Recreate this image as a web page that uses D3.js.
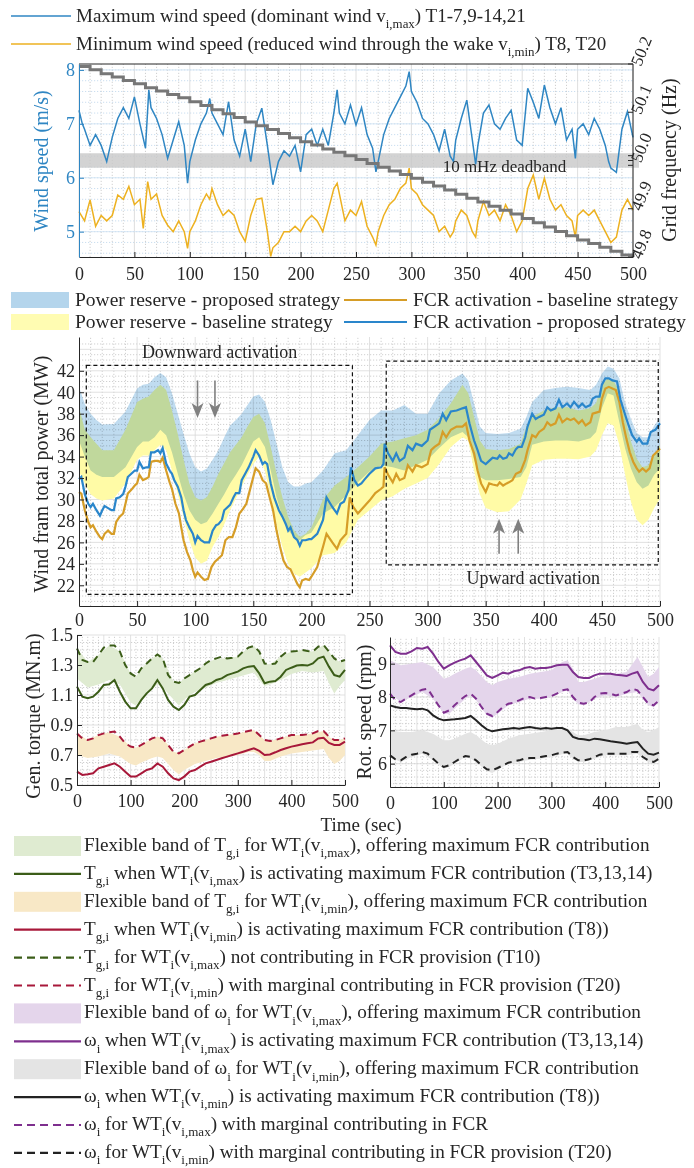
<!DOCTYPE html>
<html>
<head>
<meta charset="utf-8">
<script src="https://cdn.jsdelivr.net/npm/d3@7"></script>
<style>
  body { margin: 0; background: #fff; }
  svg { font-family: "Liberation Serif", "Times New Roman", serif; }
</style>
</head>
<body>
<div id="chart"></div>
<script>
// ---------------- data ----------------
const timeTicks = [0, 50, 100, 150, 200, 250, 300, 350, 400, 450, 500];
const timeTicksWide = [0, 100, 200, 300, 400, 500];

// wind speeds [t, m/s]
const windMax = [[0,7.25],[3,7.0],[5,6.9],[10,6.6],[15,6.8],[20,6.6],[25,6.3],[30,6.75],[35,7.1],[40,7.3],[45,7.1],[50,7.5],[55,7.0],[60,6.55],[63,7.63],[65,7.3],[70,7.1],[75,6.8],[80,6.36],[85,6.7],[90,7.04],[95,6.6],[98,5.9],[100,6.3],[105,6.7],[110,7.0],[115,7.2],[118,7.47],[120,7.2],[125,7.0],[130,6.8],[135,7.41],[140,6.7],[145,6.4],[150,6.9],[155,6.3],[160,7.0],[165,7.29],[170,6.6],[175,5.87],[180,6.3],[185,6.5],[190,6.4],[195,6.6],[200,6.11],[205,6.8],[210,6.9],[215,6.6],[220,6.9],[225,6.6],[230,7.2],[233,7.63],[235,7.2],[240,7.0],[245,7.35],[250,6.98],[255,7.3],[260,6.8],[265,6.55],[268,6.11],[270,6.3],[275,6.8],[280,7.1],[285,7.3],[290,7.5],[295,7.7],[298,7.97],[300,7.6],[305,7.4],[310,7.1],[315,7.0],[320,6.8],[325,6.5],[330,6.9],[335,6.4],[338,6.3],[340,6.7],[345,7.1],[350,7.44],[355,6.7],[358,6.25],[360,6.6],[365,7.2],[370,7.35],[375,7.0],[380,6.9],[385,7.1],[390,7.25],[395,6.7],[400,6.6],[405,7.66],[410,7.4],[415,7.1],[420,7.72],[425,7.3],[430,7.0],[435,7.3],[440,6.7],[445,6.9],[448,6.36],[450,6.9],[455,7.0],[460,6.8],[465,7.1],[470,6.9],[475,6.6],[478,6.3],[480,6.18],[485,6.1],[490,6.9],[495,7.23],[500,6.75]];
const windMin = [[0,5.37],[5,5.2],[10,5.59],[15,5.1],[20,5.3],[25,5.2],[30,5.3],[35,5.68],[40,5.6],[45,5.84],[50,5.5],[55,5.6],[58,5.06],[60,5.5],[62,5.93],[65,5.6],[70,5.7],[75,5.3],[80,5.12],[85,5.0],[90,5.2],[95,5.0],[98,4.69],[100,5.0],[105,5.2],[110,5.5],[115,5.7],[118,5.6],[120,5.8],[125,5.5],[130,5.3],[135,5.4],[140,5.3],[145,5.0],[150,4.82],[155,5.3],[160,5.6],[165,5.62],[170,5.0],[173,4.54],[175,4.7],[180,4.8],[185,5.0],[190,5.0],[195,5.1],[200,5.0],[205,5.2],[210,5.3],[215,5.2],[220,5.0],[225,5.4],[230,5.8],[233,5.9],[235,5.7],[240,5.2],[245,5.4],[250,5.3],[255,5.56],[260,5.1],[265,4.9],[268,4.75],[270,5.0],[275,5.3],[280,5.5],[285,5.6],[290,5.8],[295,5.9],[298,6.18],[300,5.8],[305,5.7],[310,5.5],[315,5.4],[320,5.3],[325,5.0],[330,5.1],[335,4.9],[338,5.0],[340,5.2],[345,5.4],[350,5.3],[355,5.0],[358,4.9],[360,5.2],[365,5.56],[370,5.3],[375,5.4],[380,5.2],[385,5.5],[390,5.3],[395,5.0],[400,5.2],[405,5.8],[410,6.05],[415,5.6],[420,5.99],[425,5.6],[430,5.4],[435,5.5],[440,5.3],[445,5.2],[448,4.9],[450,5.3],[455,5.4],[460,5.3],[465,5.4],[470,5.2],[475,5.0],[480,4.8],[485,4.9],[490,5.4],[495,5.6],[500,5.4]];
const windTicks = [5, 6, 7, 8];

// grid frequency staircase (Hz), one value per 10 s step
const freqT = [0,10,20,30,40,50,60,70,80,90,100,110,120,130,140,150,160,170,180,190,200,210,220,230,240,250,260,270,280,290,300,310,320,330,340,350,360,370,380,390,400,410,420,430,440,450,460,470,480,490,500];
const freqV = [50.195,50.188,50.180,50.173,50.166,50.159,50.151,50.144,50.137,50.130,50.122,50.114,50.105,50.097,50.089,50.080,50.072,50.064,50.056,50.047,50.039,50.032,50.024,50.017,50.010,50.002,49.994,49.986,49.978,49.971,49.963,49.955,49.947,49.939,49.930,49.922,49.914,49.905,49.897,49.889,49.880,49.871,49.862,49.853,49.844,49.835,49.828,49.820,49.812,49.804,49.800];
const freqTicks = [49.8, 49.9, 50.0, 50.1, 50.2];
const deadband = [49.985, 50.015];

// wind farm power (MW)
const bandT      = [0,5,10,15,20,30,40,50,55,60,65,70,75,80,85,90,95,100,105,110,115,120,125,130,135,140,145,150,155,160,165,170,175,180,185,190,195,200,210,220,230,240,250,260,270,280,290,300,310,320,330,335,340,345,350,360,370,380,385,390,400,410,420,430,440,445,450,455,460,465,470,475,480,485,490,495,500];
const reserveProposedHi = [40.5,38.9,38.0,37.4,37.0,37.05,38.2,40.35,40.7,40.8,41.4,41.8,41.4,39.9,38.0,36.1,34.3,33.0,32.6,32.9,33.7,34.6,35.8,36.9,37.4,38.0,38.8,39.6,39.8,39.1,37.4,35.2,33.0,31.6,31.2,31.2,31.5,31.6,32.7,34.3,34.6,36.0,37.4,38.3,38.3,38.8,38.0,38.0,39.9,41.1,41.75,41.1,38.95,36.8,36.2,36.1,36.2,36.6,37.7,39.1,40.2,40.4,40.5,40.4,40.2,40.7,41.75,42.4,42.2,41.3,39.0,37.5,36.2,35.8,35.8,36.9,37.6];
const reserveProposedLo = [35.5,34.0,32.7,32.3,32.1,32.1,33.0,34.9,35.4,35.4,35.8,36.5,36.0,34.4,32.4,30.5,29.0,28.1,27.7,27.9,28.7,29.6,30.5,31.5,32.3,33.2,34.3,35.4,35.8,34.9,32.7,30.2,28.4,27.1,26.5,26.2,26.7,26.9,28.7,29.3,30.4,31.6,32.6,33.2,33.0,32.7,33.2,33.7,34.8,35.8,36.3,35.8,33.7,32.1,31.8,31.8,31.9,32.1,33.0,35.1,35.4,35.5,35.5,35.4,35.7,36.3,38.5,39.9,39.7,37.2,34.75,32.9,31.6,31.0,31.3,32.3,32.9];
const reserveBaselineHi = [38.6,36.5,35.8,35.2,34.6,34.6,36.5,39.1,39.4,39.6,40.2,40.7,40.2,38.3,36.1,33.7,31.5,30.2,29.9,30.2,31.2,32.4,33.4,34.4,35.1,35.8,36.8,37.7,38.0,37.1,34.9,32.4,30.2,28.4,27.1,26.5,26.8,27.4,30.0,31.3,32.1,33.0,34.0,35.2,35.4,35.7,36.0,36.5,37.6,38.95,40.7,39.9,37.7,35.5,34.7,34.6,34.7,35.2,36.8,37.7,38.3,38.6,38.6,38.3,38.5,39.0,40.7,41.3,41.1,40.0,37.55,35.4,33.8,33.0,33.2,34.1,35.1];
const reserveBaselineLo = [32.6,31.5,30.5,30.1,29.9,30.1,31.5,33.7,34.1,34.1,34.6,35.1,34.6,32.7,30.5,28.4,26.2,24.6,24.0,24.3,25.6,26.5,27.7,29.0,30.1,31.2,32.3,33.3,34.0,32.7,30.2,27.7,25.6,24.0,23.1,22.8,23.2,23.6,24.8,25.0,26.0,28.1,29.0,29.9,30.3,31.0,31.5,32.0,33.3,34.9,35.8,35.5,32.7,30.5,29.2,28.8,28.9,30.0,31.5,33.2,33.7,33.8,33.8,33.75,34.0,34.6,36.0,37.1,36.9,35.1,32.3,29.8,28.1,27.6,28.1,29.2,30.1];

const fcrProposed = [[0,31.9],[2,32.1],[5,30.5],[8,29.6],[10,29.3],[12,29.6],[15,29.0],[18,28.5],[20,29.0],[22,29.4],[25,29.2],[28,29.0],[30,29.0],[32,30.1],[35,30.2],[38,30.5],[40,31.2],[42,32.1],[45,32.4],[48,32.7],[50,32.7],[52,33.5],[55,32.9],[58,33.0],[60,33.0],[62,34.4],[65,34.4],[68,34.6],[70,34.3],[72,34.8],[75,33.35],[78,32.7],[80,32.4],[82,31.8],[85,31.2],[88,30.2],[90,29.0],[92,28.1],[95,27.4],[98,26.8],[100,26.0],[102,26.6],[105,26.2],[108,26.0],[112,26.0],[115,27.1],[118,27.6],[120,27.7],[123,28.1],[125,29.0],[128,29.3],[130,29.5],[133,30.2],[135,30.6],[138,30.6],[140,31.8],[143,32.4],[146,33.0],[150,34.0],[152,34.6],[155,34.1],[158,33.3],[160,33.5],[162,33.3],[165,31.5],[168,30.2],[170,29.6],[172,29.0],[175,28.4],[178,27.7],[180,27.1],[182,27.4],[185,26.5],[188,26.2],[190,25.7],[192,26.2],[195,26.2],[198,26.3],[200,26.3],[205,26.8],[210,28.1],[213,30.2],[218,29.3],[222,28.7],[225,29.6],[228,29.8],[232,30.9],[234,33.0],[237,31.8],[240,31.3],[243,31.5],[246,31.9],[250,32.4],[255,32.9],[260,33.0],[262,33.3],[263,35.2],[266,34.3],[270,33.6],[273,34.3],[276,33.6],[280,33.9],[283,35.0],[287,34.6],[290,35.2],[295,35.0],[300,35.5],[302,36.5],[306,36.8],[310,37.1],[313,38.0],[316,37.4],[320,38.2],[325,38.3],[330,38.5],[333,38.6],[336,37.1],[340,35.5],[343,34.6],[346,33.6],[350,33.3],[353,33.6],[356,33.9],[360,33.8],[362,34.1],[365,33.8],[368,33.9],[370,34.3],[373,34.1],[376,34.7],[378,34.9],[381,34.9],[384,35.8],[386,36.8],[390,38.0],[393,37.5],[396,37.7],[400,37.9],[403,38.6],[406,38.3],[410,38.5],[413,39.3],[416,38.6],[420,38.95],[423,38.6],[426,39.1],[430,38.6],[433,38.95],[436,38.6],[440,38.8],[442,39.4],[445,39.6],[448,39.6],[450,40.7],[453,41.3],[456,41.3],[459,41.1],[463,41.0],[466,39.3],[470,37.9],[473,36.9],[476,36.0],[480,35.4],[482,35.7],[485,35.2],[489,35.2],[492,36.3],[496,36.5],[500,37.1]];
const fcrBaseline = [[0,30.7],[2,30.55],[5,29.0],[8,27.9],[10,27.4],[12,27.6],[15,27.0],[18,26.5],[20,26.3],[22,26.8],[25,27.1],[28,26.8],[30,26.8],[32,27.9],[35,28.4],[38,28.7],[40,29.6],[42,30.55],[45,30.9],[48,31.3],[50,31.5],[52,32.3],[55,31.8],[58,31.95],[60,32.1],[62,33.5],[65,33.6],[68,33.6],[70,33.5],[72,33.9],[75,32.7],[78,31.6],[80,31.0],[83,29.6],[86,28.7],[88,27.4],[90,26.2],[93,25.1],[96,24.3],[98,23.4],[100,22.8],[102,23.2],[105,22.8],[108,22.5],[111,22.6],[114,23.7],[117,24.2],[120,24.5],[123,24.8],[126,26.2],[129,26.5],[132,26.5],[135,27.4],[138,28.7],[141,29.1],[144,29.6],[147,30.85],[150,32.1],[152,32.9],[155,32.6],[158,31.8],[161,31.5],[164,30.2],[167,29.0],[170,27.1],[173,25.6],[176,24.3],[179,23.7],[182,23.5],[185,22.8],[188,22.1],[190,21.8],[192,22.45],[195,22.6],[198,22.5],[200,22.8],[205,23.7],[210,25.6],[213,26.8],[218,26.0],[222,25.4],[225,26.2],[230,26.8],[233,30.2],[236,29.3],[240,28.7],[245,29.3],[250,29.9],[255,30.6],[260,31.0],[262,31.2],[263,33.0],[266,32.3],[270,31.6],[273,32.4],[276,31.8],[280,32.0],[283,33.2],[287,32.6],[290,33.2],[295,33.0],[300,33.3],[303,34.6],[306,34.9],[310,35.2],[313,36.3],[316,35.8],[320,36.5],[325,36.8],[330,36.8],[333,37.1],[336,35.5],[340,34.3],[343,32.7],[346,31.5],[350,30.7],[353,31.5],[356,31.4],[360,31.3],[362,31.6],[365,31.3],[368,31.5],[370,31.6],[373,31.8],[376,32.4],[380,32.6],[384,33.7],[386,34.6],[390,36.0],[393,35.8],[396,36.3],[400,36.6],[403,37.2],[406,36.9],[410,37.1],[413,37.9],[416,37.2],[420,37.55],[423,37.4],[426,37.55],[430,37.1],[433,37.4],[436,36.9],[440,37.2],[442,38.0],[445,38.1],[448,38.2],[450,39.4],[453,40.35],[456,40.5],[459,40.35],[462,40.2],[465,39.1],[468,37.2],[471,35.7],[474,34.4],[477,33.5],[480,32.9],[482,32.6],[485,32.9],[488,32.6],[491,32.9],[494,34.1],[497,34.4],[500,34.75]];
const powerTicks = [22, 24, 26, 28, 30, 32, 34, 36, 38, 40, 42];

// activation boxes [t0, t1, P0, P1] and arrows [t, Pfrom, Pto]
const downBox = [6.3, 235.3, 21.15, 42.5];
const upBox = [264.4, 498.5, 23.9, 42.9];
const downArrows = [[102, 41.1, 37.6], [117, 41.1, 37.6]];
const upArrows = [[361.5, 24.95, 28.2], [378, 24.95, 28.2]];

// generator torque (MN.m) and rotor speed (rpm), 10 s steps
const t10 = d3.range(0, 501, 10);
const tgMax = [1.156,1.089,1.078,1.089,1.122,1.167,1.171,1.2,1.122,1.056,1.011,1.011,1.067,1.111,1.144,1.2,1.144,1.067,1.022,1.0,1.033,1.089,1.1,1.133,1.167,1.178,1.2,1.211,1.233,1.244,1.256,1.278,1.289,1.293,1.244,1.178,1.189,1.193,1.222,1.267,1.282,1.296,1.3,1.296,1.31,1.344,1.356,1.289,1.233,1.222,1.267];
const tgMaxNoFcr = [1.41,1.333,1.32,1.32,1.367,1.416,1.43,1.43,1.39,1.30,1.244,1.222,1.278,1.31,1.344,1.37,1.344,1.233,1.19,1.18,1.21,1.233,1.256,1.278,1.31,1.333,1.344,1.356,1.344,1.349,1.356,1.39,1.416,1.427,1.39,1.31,1.304,1.31,1.356,1.384,1.39,1.393,1.40,1.393,1.39,1.422,1.433,1.39,1.344,1.322,1.333];
const tgMin = [0.589,0.567,0.571,0.578,0.611,0.622,0.633,0.644,0.622,0.589,0.556,0.556,0.578,0.6,0.611,0.644,0.622,0.578,0.544,0.533,0.556,0.589,0.6,0.622,0.644,0.655,0.667,0.678,0.689,0.70,0.711,0.722,0.733,0.744,0.727,0.70,0.704,0.718,0.733,0.745,0.756,0.764,0.771,0.778,0.784,0.81,0.815,0.78,0.767,0.767,0.789];
const tgMinMarginal = [0.844,0.811,0.8,0.811,0.833,0.844,0.851,0.856,0.822,0.778,0.756,0.749,0.767,0.789,0.811,0.822,0.811,0.767,0.722,0.711,0.733,0.756,0.778,0.789,0.8,0.811,0.822,0.828,0.833,0.838,0.844,0.852,0.86,0.867,0.833,0.8,0.793,0.8,0.811,0.822,0.833,0.833,0.833,0.838,0.844,0.86,0.86,0.822,0.8,0.8,0.811];
const wMax = [9.55,9.35,9.3,9.3,9.37,9.47,9.45,9.5,9.3,9.05,8.85,8.95,9.03,9.1,9.15,9.25,9.05,8.85,8.65,8.57,8.65,8.73,8.7,8.77,8.8,8.87,8.9,8.85,8.87,8.87,8.9,8.95,8.97,8.97,8.75,8.6,8.57,8.57,8.65,8.7,8.7,8.7,8.67,8.65,8.63,8.7,8.75,8.45,8.25,8.2,8.35];
const wMaxMarginal = [8.1,7.9,7.85,7.95,8.05,8.15,8.22,8.25,8.0,7.75,7.53,7.6,7.75,7.9,8.03,8.1,7.95,7.7,7.5,7.43,7.55,7.7,7.8,7.83,7.9,7.97,8.0,7.95,7.97,8.0,8.03,8.1,8.2,8.23,8.0,7.83,7.8,7.83,8.0,8.1,8.12,8.1,8.05,8.1,8.15,8.25,8.2,8.0,7.8,7.75,7.9];
const wMin = [7.75,7.7,7.67,7.67,7.65,7.63,7.65,7.6,7.45,7.35,7.3,7.32,7.33,7.35,7.37,7.43,7.3,7.15,7.03,6.97,7.0,7.03,7.05,7.07,7.05,7.08,7.1,7.07,7.05,7.07,7.05,7.07,7.07,7.0,6.8,6.75,6.73,6.7,6.75,6.73,6.7,6.67,6.65,6.63,6.6,6.63,6.65,6.45,6.3,6.27,6.33];
const wMinMarginal = [6.25,6.13,6.1,6.2,6.27,6.3,6.35,6.3,6.15,6.0,5.9,5.95,6.05,6.15,6.23,6.2,6.1,5.95,5.83,5.8,5.87,5.95,6.03,6.07,6.1,6.15,6.17,6.17,6.2,6.23,6.25,6.3,6.33,6.35,6.2,6.1,6.1,6.13,6.2,6.27,6.3,6.3,6.3,6.3,6.3,6.35,6.35,6.2,6.1,6.05,6.15];

// flexible bands
const flexT = [0,20,40,60,80,100,110,120,140,150,160,180,190,200,220,240,260,280,300,320,330,340,350,360,380,400,420,440,460,470,480,490,500];
const tgBandMaxHi = [1.41,1.32,1.367,1.43,1.39,1.244,1.222,1.278,1.344,1.37,1.344,1.19,1.18,1.21,1.256,1.31,1.344,1.344,1.356,1.416,1.427,1.39,1.31,1.304,1.356,1.39,1.40,1.39,1.433,1.39,1.344,1.322,1.333];
const tgBandMaxLo = [1.21,1.15,1.17,1.2,1.17,1.05,1.03,1.08,1.14,1.17,1.15,1.07,1.03,1.07,1.12,1.15,1.18,1.2,1.22,1.24,1.25,1.2,1.16,1.17,1.2,1.24,1.26,1.25,1.26,1.18,1.11,1.16,1.2];
const tgBandMinHi = [0.844,0.8,0.833,0.851,0.822,0.756,0.749,0.767,0.811,0.822,0.811,0.722,0.711,0.733,0.778,0.8,0.822,0.833,0.844,0.86,0.867,0.833,0.8,0.793,0.811,0.833,0.833,0.844,0.86,0.82,0.8,0.8,0.811];
const tgBandMinLo = [0.70,0.68,0.69,0.71,0.69,0.64,0.63,0.65,0.68,0.69,0.68,0.6,0.57,0.6,0.64,0.66,0.68,0.69,0.70,0.72,0.72,0.70,0.66,0.66,0.69,0.71,0.72,0.73,0.74,0.68,0.64,0.66,0.70];
const wBandMaxHi = [9.1,8.95,9.0,9.05,8.9,8.55,8.6,8.7,8.85,8.9,8.8,8.45,8.35,8.45,8.55,8.6,8.7,8.75,8.8,9.05,9.1,8.85,8.45,8.45,8.55,8.65,8.7,8.75,9.2,8.9,8.6,8.7,8.9];
const wBandMaxLo = [8.1,7.85,8.0,8.15,7.95,7.5,7.5,7.65,7.95,8.05,7.9,7.45,7.38,7.5,7.75,7.85,7.95,7.95,8.0,8.15,8.2,7.95,7.78,7.75,7.95,8.05,8.0,8.1,8.15,7.95,7.75,7.7,7.85];
const wBandMinHi = [7.0,6.95,6.95,7.0,6.9,6.7,6.7,6.75,6.9,6.95,6.85,6.6,6.55,6.6,6.75,6.85,6.9,6.95,7.0,7.05,7.05,6.95,6.85,6.85,6.95,7.0,7.1,7.1,7.2,7.0,6.95,7.0,7.1];
const wBandMinLo = [6.2,6.05,6.2,6.3,6.1,5.85,5.9,6.0,6.2,6.15,6.05,5.78,5.72,5.82,6.0,6.05,6.12,6.15,6.2,6.28,6.3,6.15,6.05,6.05,6.15,6.25,6.25,6.25,6.3,6.15,6.05,6.0,6.1];
const torqueTicks = [0.5, 0.7, 0.9, 1.1, 1.3, 1.5];
const speedTicks = [6, 7, 8, 9];

// ---------------- drawing ----------------
const FONT = '"Liberation Serif", "Times New Roman", serif';
const INK = '#262626';
const svg = d3.select('#chart').append('svg')
  .attr('width', 694).attr('height', 1168)
  .style('font-family', FONT);

// text with _{subscript} parts
function rich(sel, str, size) {
  const re = /_\{([^}]*)\}/g;
  let parts = [], last = 0, m;
  while ((m = re.exec(str))) {
    if (m.index > last) parts.push([str.slice(last, m.index), false]);
    parts.push([m[1], true]);
    last = re.lastIndex;
  }
  if (last < str.length) parts.push([str.slice(last), false]);
  let prevSub = false;
  parts.forEach(([txt, sub]) => {
    const ts = sel.append('tspan').text(txt);
    if (sub) ts.attr('font-size', size * 0.68);
    if (sub && !prevSub) ts.attr('dy', size * 0.33);
    if (!sub && prevSub) ts.attr('dy', -size * 0.33);
    prevSub = sub;
  });
}

function gridLines(g, x, y, xs, ys, color, dash) {
  const [yb, yt] = y.range(), [xl, xr] = x.range();
  g.append('g').selectAll('line').data(xs).join('line')
    .attr('x1', d => x(d)).attr('x2', d => x(d)).attr('y1', yb).attr('y2', yt)
    .attr('stroke', color.v).attr('stroke-width', 0.8).attr('stroke-dasharray', dash);
  g.append('g').selectAll('line').data(ys).join('line')
    .attr('y1', d => y(d)).attr('y2', d => y(d)).attr('x1', xl).attr('x2', xr)
    .attr('stroke', color.h).attr('stroke-width', 0.8).attr('stroke-dasharray', dash);
}

function styleAxis(a, size, color) {
  a.attr('font-family', FONT).attr('font-size', size);
  a.selectAll('text').attr('fill', color);
  a.selectAll('line, path').attr('stroke', color);
}

const lineT = (x, y) => d3.line().x(d => x(d[0])).y(d => y(d[1]));

// ===== panel 1: wind speed + frequency =====
{
  const x = d3.scaleLinear().domain([0, 500]).range([79, 633]);
  const y = d3.scaleLinear().domain([4.53, 8.11]).range([257, 64]);
  const yF = d3.scaleLinear().domain([49.8, 50.2]).range([257, 64]);
  const g = svg.append('g');
  const blue = '#2f86c3';

  gridLines(g, x, y, d3.range(10, 500, 10).filter(d => d % 50), d3.range(4.6, 8.1, 0.2),
    {v: '#c4c4c4', h: '#bcd6ec'}, '1.2,1.8');
  gridLines(g, x, y, timeTicks, windTicks, {v: '#d6d6d6', h: '#cfe2f2'}, null);

  g.append('rect').attr('x', 79).attr('width', 560)
    .attr('y', yF(deadband[1])).attr('height', yF(deadband[0]) - yF(deadband[1]))
    .attr('fill', '#c8c8c8').attr('opacity', 0.8);

  g.append('path').datum(windMax).attr('d', lineT(x, y))
    .attr('fill', 'none').attr('stroke', blue).attr('stroke-width', 1.5);
  g.append('path').datum(windMin).attr('d', lineT(x, y))
    .attr('fill', 'none').attr('stroke', '#edb120').attr('stroke-width', 1.5);
  g.append('path').datum(d3.zip(freqT, freqV))
    .attr('d', lineT(x, yF).curve(d3.curveStepAfter))
    .attr('fill', 'none').attr('stroke', '#777').attr('stroke-width', 3);

  g.append('text').attr('x', x(384)).attr('y', yF(50.0) + 11)
    .attr('text-anchor', 'middle').attr('font-size', 17).attr('fill', INK)
    .text('10 mHz deadband');

  // frame
  g.append('line').attr('x1', 79).attr('x2', 633).attr('y1', 64).attr('y2', 64).attr('stroke', INK);
  g.append('line').attr('x1', 633).attr('x2', 633).attr('y1', 64).attr('y2', 257).attr('stroke', INK);

  const ax = g.append('g').attr('transform', 'translate(0,257)')
    .call(d3.axisBottom(x).tickValues(timeTicks).tickSize(-5).tickSizeOuter(0).tickPadding(10));
  styleAxis(ax, 18, INK);
  const ay = g.append('g').attr('transform', 'translate(79,0)')
    .call(d3.axisLeft(y).tickValues(windTicks).tickSize(-5).tickSizeOuter(0).tickPadding(4).tickFormat(d3.format('d')));
  styleAxis(ay, 18, blue);

  // right axis (frequency)
  g.append('g').selectAll('line').data([49.8, 49.9, 49.99, 50.0, 50.01, 50.1, 50.2]).join('line')
    .attr('x1', 628).attr('x2', 633).attr('y1', d => yF(d)).attr('y2', d => yF(d)).attr('stroke', INK);
  g.append('g').selectAll('text').data(freqTicks).join('text')
    .attr('transform', d => `translate(641,${yF(d) + 3}) rotate(-68)`)
    .attr('font-size', 17).attr('fill', INK)
    .text(d => d.toFixed(1));

  g.append('text').attr('transform', `translate(48,${161}) rotate(-90)`)
    .attr('text-anchor', 'middle').attr('font-size', 20).attr('fill', blue).text('Wind speed (m/s)');
  g.append('text').attr('transform', `translate(676,${160}) rotate(-90)`)
    .attr('text-anchor', 'middle').attr('font-size', 20).attr('fill', INK).text('Grid frequency (Hz)');

  // legend
  const leg = [
    {c: blue, s: 'Maximum wind speed (dominant wind v_{i,max}) T1-7,9-14,21'},
    {c: '#edb120', s: 'Minimum wind speed (reduced wind through the wake v_{i,min}) T8, T20'}
  ];
  leg.forEach((d, i) => {
    const yy = 16 + i * 28;
    svg.append('line').attr('x1', 11).attr('x2', 71).attr('y1', yy).attr('y2', yy)
      .attr('stroke', d.c).attr('stroke-width', 1.5);
    rich(svg.append('text').attr('x', 76).attr('y', yy + 6).attr('font-size', 19).attr('fill', INK), d.s, 19);
  });
}

// ===== panel 2: wind farm power =====
{
  const x = d3.scaleLinear().domain([0, 500]).range([79, 660]);
  const y = d3.scaleLinear().domain([20.07, 45.15]).range([606, 337]);
  const g = svg.append('g');

  gridLines(g, x, y, d3.range(10, 500, 10).filter(d => d % 50), d3.range(20.5, 45, 0.5).filter(d => d % 2),
    {v: '#c4c4c4', h: '#c4c4c4'}, '1.2,1.8');
  gridLines(g, x, y, timeTicks.slice(1), powerTicks.concat([44]), {v: '#d9d9d9', h: '#d9d9d9'}, null);

  const area = (lo, hi) => d3.area().x((d, i) => x(bandT[i])).y0((d, i) => y(lo[i])).y1((d, i) => y(hi[i]));
  g.append('path').datum(bandT).attr('d', area(reserveBaselineLo, reserveBaselineHi)).attr('fill', '#fffba6');
  g.append('path').datum(bandT).attr('d', area(reserveProposedLo, reserveProposedHi)).attr('fill', '#c0dcf0')
    .style('mix-blend-mode', 'multiply');

  g.append('path').datum(fcrBaseline).attr('d', lineT(x, y))
    .attr('fill', 'none').attr('stroke', '#d69d27').attr('stroke-width', 2.2);
  g.append('path').datum(fcrProposed).attr('d', lineT(x, y))
    .attr('fill', 'none').attr('stroke', '#2a86cb').attr('stroke-width', 2.2);

  // activation boxes
  [downBox, upBox].forEach(b => {
    g.append('rect').attr('x', x(b[0])).attr('y', y(b[3]))
      .attr('width', x(b[1]) - x(b[0])).attr('height', y(b[2]) - y(b[3]))
      .attr('fill', 'none').attr('stroke', '#111').attr('stroke-width', 1.2).attr('stroke-dasharray', '4,3');
  });
  g.append('text').attr('x', x(121)).attr('y', 358).attr('text-anchor', 'middle')
    .attr('font-size', 18).attr('fill', INK).text('Downward activation');
  g.append('text').attr('x', x(391)).attr('y', 584).attr('text-anchor', 'middle')
    .attr('font-size', 18).attr('fill', INK).text('Upward activation');

  // arrows
  downArrows.concat(upArrows).forEach(a => {
    const xx = x(a[0]), ya = y(a[1]), yb = y(a[2]);
    const dir = yb > ya ? 1 : -1;
    g.append('line').attr('x1', xx).attr('x2', xx).attr('y1', ya).attr('y2', yb - dir * 8)
      .attr('stroke', '#808080').attr('stroke-width', 1.6);
    g.append('path')
      .attr('d', `M${xx},${yb} L${xx - 6},${yb - dir * 15} L${xx},${yb - dir * 11} L${xx + 6},${yb - dir * 15} Z`)
      .attr('fill', '#808080');
  });

  const ax = g.append('g').attr('transform', 'translate(0,606)')
    .call(d3.axisBottom(x).tickValues(timeTicks).tickSize(-5).tickSizeOuter(0).tickPadding(7));
  styleAxis(ax, 18, INK);
  const ay = g.append('g').attr('transform', 'translate(79,0)')
    .call(d3.axisLeft(y).tickValues(powerTicks).tickSize(-5).tickSizeOuter(0).tickPadding(4));
  styleAxis(ay, 18, INK);

  g.append('text').attr('transform', `translate(48,474) rotate(-90)`)
    .attr('text-anchor', 'middle').attr('font-size', 20).attr('fill', INK).text('Wind fram total power (MW)');

  // legend
  const ly = [300, 322];
  svg.append('rect').attr('x', 11).attr('y', ly[0] - 8).attr('width', 58).attr('height', 16).attr('fill', '#b4d5ec');
  svg.append('rect').attr('x', 11).attr('y', ly[1] - 8).attr('width', 58).attr('height', 16).attr('fill', '#fffcb2');
  svg.append('line').attr('x1', 344).attr('x2', 407).attr('y1', ly[0]).attr('y2', ly[0]).attr('stroke', '#d69d27').attr('stroke-width', 2.2);
  svg.append('line').attr('x1', 344).attr('x2', 407).attr('y1', ly[1]).attr('y2', ly[1]).attr('stroke', '#2a86cb').attr('stroke-width', 2.2);
  [['Power reserve - proposed strategy', 75, ly[0]], ['Power reserve - baseline strategy', 75, ly[1]],
   ['FCR activation - baseline strategy', 413, ly[0]], ['FCR activation - proposed strategy', 413, ly[1]]]
    .forEach(d => svg.append('text').attr('x', d[1]).attr('y', d[2] + 6).attr('font-size', 19.5).attr('fill', INK).text(d[0]));
}

// ===== panels 3 & 4: torque and rotor speed =====
function smallPanel(x0, x1, y0, y1, dom, ticks, yMinor, padY) {
  const x = d3.scaleLinear().domain([0, 500]).range([x0, x1]);
  const y = d3.scaleLinear().domain(dom).range([y1, y0]);
  const g = svg.append('g');
  gridLines(g, x, y, d3.range(10, 500, 10).filter(d => d % 50), yMinor, {v: '#c4c4c4', h: '#c4c4c4'}, '1.2,1.8');
  gridLines(g, x, y, timeTicks.slice(1), ticks, {v: '#d9d9d9', h: '#d9d9d9'}, null);
  return {x, y, g, draw() {
    const ax = g.append('g').attr('transform', `translate(0,${y1})`)
      .call(d3.axisBottom(x).tickValues(timeTicksWide).tickSize(-5).tickSizeOuter(0).tickPadding(9));
    styleAxis(ax, 18, INK);
    const ay = g.append('g').attr('transform', `translate(${x0},0)`)
      .call(d3.axisLeft(y).tickValues(ticks).tickSize(-5).tickSizeOuter(0).tickPadding(padY)
        .tickFormat(d3.format(ticks[0] < 1 ? '.1f' : 'd')));
    styleAxis(ay, 18, INK);
  }};
}
function band(p, lo, hi, fill) {
  p.g.append('path').datum(flexT)
    .attr('d', d3.area().x((d, i) => p.x(flexT[i])).y0((d, i) => p.y(lo[i])).y1((d, i) => p.y(hi[i])))
    .attr('fill', fill);
}
function series(p, vals, color, dash) {
  p.g.append('path').datum(d3.zip(t10, vals)).attr('d', lineT(p.x, p.y))
    .attr('fill', 'none').attr('stroke', color).attr('stroke-width', 2)
    .attr('stroke-dasharray', dash ? '7,5' : null);
}

const C = {green: '#3b5d18', red: '#a8183a', purple: '#7e2f8e', black: '#222',
  greenBand: '#dfebd1', orangeBand: '#f8e8c6', purpleBand: '#e4d5eb', grayBand: '#e4e4e4'};

const pT = smallPanel(77, 345, 635, 785, [0.5, 1.5], torqueTicks, d3.range(0.55, 1.5, 0.05).filter(d => Math.round(d * 100) % 20 !== 10), 4);
band(pT, tgBandMaxLo, tgBandMaxHi, C.greenBand);
band(pT, tgBandMinLo, tgBandMinHi, C.orangeBand);
series(pT, tgMaxNoFcr, C.green, true);
series(pT, tgMax, C.green, false);
series(pT, tgMinMarginal, C.red, true);
series(pT, tgMin, C.red, false);
pT.draw();

const pW = smallPanel(390, 659, 637, 787, [5.3, 9.8], speedTicks, d3.range(5.4, 9.8, 0.2), 3);
band(pW, wBandMaxLo, wBandMaxHi, C.purpleBand);
band(pW, wBandMinLo, wBandMinHi, C.grayBand);
series(pW, wMaxMarginal, C.purple, true);
series(pW, wMax, C.purple, false);
series(pW, wMinMarginal, C.black, true);
series(pW, wMin, C.black, false);
pW.draw();

svg.append('text').attr('transform', 'translate(40,716) rotate(-90)').attr('text-anchor', 'middle')
  .attr('font-size', 20).attr('fill', INK).text('Gen. torque (MN.m)');
svg.append('text').attr('transform', 'translate(371,712) rotate(-90)').attr('text-anchor', 'middle')
  .attr('font-size', 20).attr('fill', INK).text('Rot. speed (rpm)');
svg.append('text').attr('x', 361).attr('y', 831).attr('text-anchor', 'middle')
  .attr('font-size', 19).attr('fill', INK).text('Time (sec)');

// ===== bottom legend =====
const legendRows = [
  {k: 'band', c: C.greenBand, s: 'Flexible band of T_{g,i} for WT_{i}(v_{i,max}), offering maximum FCR contribution'},
  {k: 'line', c: C.green, s: 'T_{g,i} when WT_{i}(v_{i,max}) is activating maximum FCR contribution (T3,13,14)'},
  {k: 'band', c: C.orangeBand, s: 'Flexible band of T_{g,i} for WT_{i}(v_{i,min}), offering maximum FCR contribution'},
  {k: 'line', c: C.red, s: 'T_{g,i} when WT_{i}(v_{i,min}) is activating maximum FCR contribution (T8))'},
  {k: 'dash', c: C.green, s: 'T_{g,i} for WT_{i}(v_{i,max}) not contributing in FCR provision (T10)'},
  {k: 'dash', c: C.red, s: 'T_{g,i} for WT_{i}(v_{i,min}) with marginal contributing in FCR provision (T20)'},
  {k: 'band', c: C.purpleBand, s: 'Flexible band of ω_{i} for WT_{i}(v_{i,max}), offering maximum FCR contribution'},
  {k: 'line', c: C.purple, s: 'ω_{i} when WT_{i}(v_{i,max}) is activating maximum FCR contribution (T3,13,14)'},
  {k: 'band', c: C.grayBand, s: 'Flexible band of ω_{i} for WT_{i}(v_{i,min}), offering maximum FCR contribution'},
  {k: 'line', c: C.black, s: 'ω_{i} when WT_{i}(v_{i,min}) is activating maximum FCR contribution (T8))'},
  {k: 'dash', c: C.purple, s: 'ω_{i} for WT_{i}(v_{i,max}) with marginal contributing in FCR'},
  {k: 'dash', c: C.black, s: 'ω_{i} for WT_{i}(v_{i,min}) with marginal contributing in FCR provision (T20)'}
];
legendRows.forEach((d, i) => {
  const yy = 846 + i * 27.9;
  if (d.k === 'band') {
    svg.append('rect').attr('x', 14).attr('y', yy - 10).attr('width', 67).attr('height', 20).attr('fill', d.c);
  } else {
    svg.append('line').attr('x1', 14).attr('x2', 81).attr('y1', yy).attr('y2', yy)
      .attr('stroke', d.c).attr('stroke-width', 2.2)
      .attr('stroke-dasharray', d.k === 'dash' ? '8,5' : null);
  }
  rich(svg.append('text').attr('x', 84).attr('y', yy + 5).attr('font-size', 19.2).attr('fill', INK), d.s, 19.2);
});
</script>
</body>
</html>
